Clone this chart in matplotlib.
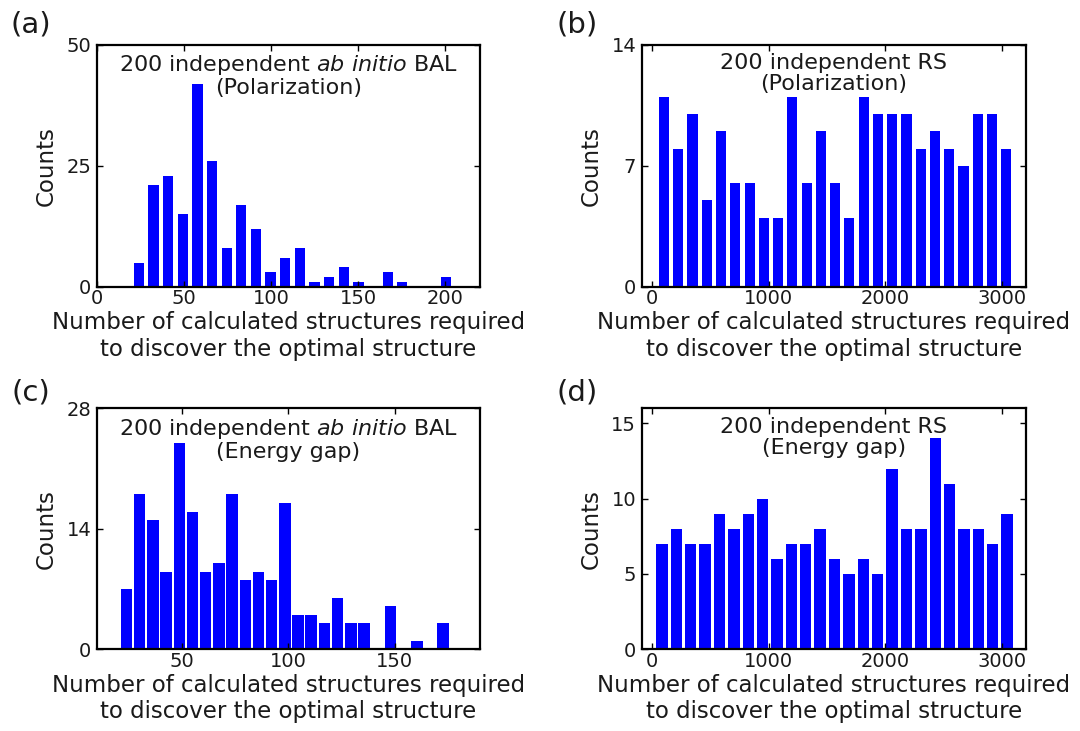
import numpy as np
import matplotlib
matplotlib.use("Agg")
import matplotlib.pyplot as plt

plt.rcParams['font.family'] = ['DejaVu Sans']
plt.rcParams['mathtext.fontset'] = 'dejavusans'

# ---------------- data ----------------
# (a) ab initio BAL, polarization
a_range = (20.0, 204.8)
a_counts = [5, 21, 23, 15, 42, 26, 8, 17, 12, 3, 6, 8, 1, 2, 4, 1, 0, 3, 1, 0, 0, 2]
# (b) RS, polarization
b_range = (42.0, 3097.0)
b_counts = [11, 8, 10, 5, 9, 6, 6, 4, 4, 11, 6, 9, 6, 4, 11, 10, 10, 10, 8, 9, 8, 7, 10, 10, 8]
# (c) ab initio BAL, energy gap
c_range = (20.9, 175.8)
c_counts = [7, 18, 15, 9, 24, 16, 9, 10, 18, 8, 9, 8, 17, 4, 4, 3, 6, 3, 3, 0, 5, 0, 1, 0, 3]
# (d) RS, energy gap
d_range = (24.0, 3105.0)
d_counts = [7, 8, 7, 7, 9, 8, 9, 10, 6, 7, 7, 8, 6, 5, 6, 5, 12, 8, 8, 14, 11, 8, 8, 7, 9]

titles = [r"200 independent $\it{ab\ initio}$ BAL" + "\n(Polarization)",
          "200 independent RS\n(Polarization)",
          r"200 independent $\it{ab\ initio}$ BAL" + "\n(Energy gap)",
          "200 independent RS\n(Energy gap)"]
panel_letters = ["(a)", "(b)", "(c)", "(d)"]
xlabel = "Number of calculated structures required\nto discover the optimal structure"
ylabel = "Counts"

xlims = [(0, 220), (-88, 3205), (10, 190), (-88, 3205)]
xticks = [[0, 50, 100, 150, 200], [0, 1000, 2000, 3000], [50, 100, 150], [0, 1000, 2000, 3000]]
ylims = [(0, 50), (0, 14), (0, 28), (0, 16)]
yticks = [[0, 25, 50], [0, 7, 14], [0, 14, 28], [0, 5, 10, 15]]
rwidths = [0.70, 0.71, 0.87, 0.79]

ranges = [a_range, b_range, c_range, d_range]
counts = [a_counts, b_counts, c_counts, d_counts]

# ---------------- layout ----------------
W, H = 1080, 731
fig = plt.figure(figsize=(W / 100, H / 100), dpi=100)
boxes = [(96.7, 45, 480, 286.7), (641.7, 45, 1026, 286.7),
         (96.7, 408.3, 480, 649.3), (641.7, 408.3, 1026, 649.3)]
letter_pos = [(31, 25), (577, 25), (31, 392), (577, 392)]

txt_color = '#1a1a1a'
for i in range(4):
    l, t, r, b = boxes[i]
    ax = fig.add_axes([l / W, 1 - b / H, (r - l) / W, (b - t) / H])
    cnt = counts[i]
    edges = np.linspace(ranges[i][0], ranges[i][1], len(cnt) + 1)
    centers = 0.5 * (edges[:-1] + edges[1:])
    ax.hist(centers, bins=edges, weights=cnt, rwidth=rwidths[i],
            color='#0000ff', edgecolor='none')
    ax.set_xlim(*xlims[i])
    ax.set_ylim(*ylims[i])
    ax.set_xticks(xticks[i])
    ax.set_yticks(yticks[i])
    ax.tick_params(direction='in', top=True, right=True, length=4, width=1,
                   labelsize=14, colors='black', labelcolor=txt_color)
    ax.tick_params(axis='x', pad=2)
    ax.tick_params(axis='y', pad=4)
    for s in ax.spines.values():
        s.set_linewidth(1.6)
        s.set_color('black')
    ax.set_xlabel(xlabel, fontsize=16.5, color=txt_color, labelpad=2, linespacing=1.2)
    ax.set_ylabel(ylabel, fontsize=16.5, color=txt_color, labelpad=6)
    ax.text(0.5, 0.965, titles[i], transform=ax.transAxes, ha='center', va='top',
            fontsize=16, color=txt_color, linespacing=1.05)
    lx, ly = letter_pos[i]
    fig.text(lx / W, 1 - ly / H, panel_letters[i], ha='center', va='center',
             fontsize=21, color=txt_color)

fig.savefig("out.png", dpi=100)
